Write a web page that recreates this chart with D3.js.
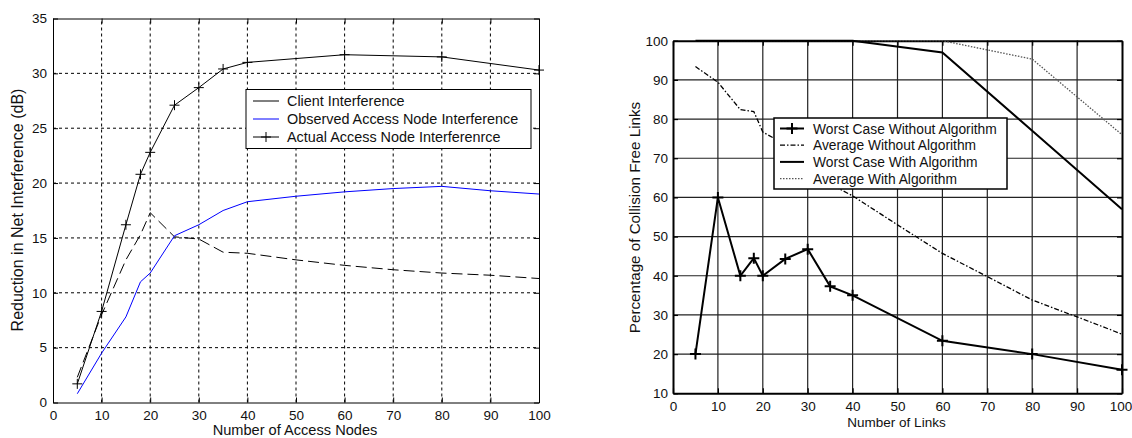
<!DOCTYPE html>
<html>
<head>
<meta charset="utf-8">
<script src="https://cdn.jsdelivr.net/npm/d3@7"></script>
<style>
  body { margin: 0; background: #fff; }
  text { font-family: "Liberation Sans", Arial, sans-serif; }
</style>
</head>
<body>
<div id="js-charts"></div>
<script>
//  Left chart data
var nodesX    = [5, 10, 15, 18, 20, 25, 30, 35, 40, 50, 60, 70, 80, 90, 100];
var clientY   = [2.3, 8.0, 13.0, 15.3, 17.3, 15.1, 14.9, 13.7, 13.6, 13.0, 12.5, 12.1, 11.8, 11.6, 11.3];
var observedY = [0.8, 4.5, 7.8, 11.0, 11.8, 15.2, 16.2, 17.5, 18.3, 18.8, 19.2, 19.5, 19.7, 19.3, 19.0];
var actualX   = [5, 10, 15, 18, 20, 25, 30, 35, 40, 60, 80, 100];
var actualY   = [1.7, 8.3, 16.2, 20.8, 22.8, 27.1, 28.7, 30.4, 31.0, 31.7, 31.5, 30.3];
var leftLegend = ["Client Interference", "Observed Access Node Interference", "Actual Access Node Interferenrce"];
var leftXTicks = [0, 10, 20, 30, 40, 50, 60, 70, 80, 90, 100];
var leftYTicks = [0, 5, 10, 15, 20, 25, 30, 35];

//  Right chart data
var linksX        = [5, 10, 15, 18, 20, 25, 30, 35, 40, 60, 80, 100];
var worstWithout  = [20, 60, 40, 44.5, 40, 44.3, 46.8, 37.3, 35, 23.4, 20, 16];
var avgWithoutX   = [5, 10, 15, 18, 20, 25, 30, 35, 40, 50, 60, 70, 80, 90, 100];
var avgWithout    = [93.4, 89.4, 82.4, 81.9, 76.7, 73.5, 68.5, 63.4, 60.4, 53, 45.7, 39.8, 33.8, 29.5, 25.1];
var worstWith     = [100, 100, 100, 100, 100, 100, 100, 100, 100, 97, 77, 57];
var avgWith       = [100, 100, 100, 100, 100, 100, 100, 100, 100, 100, 95.3, 76];
var rightLegend = ["Worst Case Without Algorithm", "Average Without Algorithm", "Worst Case With Algorithm", "Average With Algorithm"];
var rightXTicks = [0, 10, 20, 30, 40, 50, 60, 70, 80, 90, 100];
var rightYTicks = [10, 20, 30, 40, 50, 60, 70, 80, 90, 100];

// ---------------------------------------------------------------------------------- //

var svg = d3.select("#js-charts")
  .append("svg")
  .attr("width", 1132)
  .attr("height", 438);

function pairs(xs, ys)
{
  return xs.map(function(x, i) { return [x, ys[i]]; });
}

function plus(g, cx, cy, size, width)
{
  g.append("path")
    .attr("d", "M" + (cx - size) + "," + cy + "H" + (cx + size) + "M" + cx + "," + (cy - size) + "V" + (cy + size))
    .attr("stroke", "#000")
    .attr("stroke-width", width)
    .attr("fill", "none");
}

// ---------------------------------------------------------------------------------- //
//  Left chart

var lx = d3.scaleLinear().domain([0, 100]).range([53, 539]);
var ly = d3.scaleLinear().domain([0, 35]).range([402.5, 18.5]);
var left = svg.append("g");

// dashed grid
left.selectAll(".vg").data(leftXTicks.slice(1, -1)).enter().append("line")
  .attr("x1", function(d) { return lx(d); }).attr("x2", function(d) { return lx(d); })
  .attr("y1", ly(0)).attr("y2", ly(35))
  .attr("stroke", "#000").attr("stroke-width", 1).attr("stroke-dasharray", "3,3");
left.selectAll(".hg").data(leftYTicks.slice(1, -1)).enter().append("line")
  .attr("x1", lx(0)).attr("x2", lx(100))
  .attr("y1", function(d) { return ly(d); }).attr("y2", function(d) { return ly(d); })
  .attr("stroke", "#000").attr("stroke-width", 1).attr("stroke-dasharray", "3,3");

// axes with inner ticks
left.append("g").attr("transform", "translate(0," + ly(0) + ")")
  .call(d3.axisBottom(lx).tickValues(leftXTicks).tickSizeInner(-5).tickSizeOuter(0).tickPadding(8));
left.append("g").attr("transform", "translate(" + lx(0) + ",0)")
  .call(d3.axisLeft(ly).tickValues(leftYTicks).tickSizeInner(-5).tickSizeOuter(0).tickPadding(6));
left.append("g").attr("transform", "translate(0," + ly(35) + ")")
  .call(d3.axisTop(lx).tickValues(leftXTicks).tickSizeInner(-5).tickSizeOuter(0).tickFormat(""));
left.append("g").attr("transform", "translate(" + lx(100) + ",0)")
  .call(d3.axisRight(ly).tickValues(leftYTicks).tickSizeInner(-5).tickSizeOuter(0).tickFormat(""));

left.selectAll(".domain").attr("stroke", "#000");
left.selectAll(".tick text").attr("font-size", 13.5).attr("fill", "#111");

var lline = d3.line().x(function(d) { return lx(d[0]); }).y(function(d) { return ly(d[1]); });

left.append("path").datum(pairs(nodesX, clientY))
  .attr("d", lline).attr("fill", "none").attr("stroke", "#000").attr("stroke-width", 1)
  .attr("stroke-dasharray", "11,5");
left.append("path").datum(pairs(nodesX, observedY))
  .attr("d", lline).attr("fill", "none").attr("stroke", "#0000ff").attr("stroke-width", 1);
left.append("path").datum(pairs(actualX, actualY))
  .attr("d", lline).attr("fill", "none").attr("stroke", "#000").attr("stroke-width", 1);
pairs(actualX, actualY).forEach(function(p) { plus(left, lx(p[0]), ly(p[1]), 5, 1); });

// legend
left.append("rect")
  .attr("x", 246).attr("y", 89.5).attr("width", 285).attr("height", 59)
  .attr("fill", "#fff").attr("stroke", "#000").attr("stroke-width", 1);
var leftColors = ["#000", "#0000ff", "#000"];
leftLegend.forEach(function(name, i)
{
  var y = 101 + i * 18;
  left.append("line").attr("x1", 253).attr("x2", 279).attr("y1", y).attr("y2", y)
    .attr("stroke", leftColors[i]).attr("stroke-width", 1);
  if (i == 2) plus(left, 266, y, 5, 1);
  left.append("text").attr("x", 287).attr("y", y + 5)
    .attr("font-size", 14.4).attr("fill", "#111").text(name);
});

left.append("text")
  .attr("x", 295).attr("y", 435).attr("text-anchor", "middle")
  .attr("font-size", 14.6).attr("fill", "#111").text("Number of Access Nodes");
left.append("text")
  .attr("transform", "translate(23,210) rotate(-90)").attr("text-anchor", "middle")
  .attr("font-size", 16).attr("fill", "#111").text("Reduction in Net Interference (dB)");

// ---------------------------------------------------------------------------------- //
//  Right chart

var rx = d3.scaleLinear().domain([0, 100]).range([673, 1122]);
var ry = d3.scaleLinear().domain([10, 100]).range([393.3, 40.7]);
var right = svg.append("g");

right.selectAll(".vg").data(rightXTicks.slice(1, -1)).enter().append("line")
  .attr("x1", function(d) { return rx(d); }).attr("x2", function(d) { return rx(d); })
  .attr("y1", ry(10)).attr("y2", ry(100))
  .attr("stroke", "#222").attr("stroke-width", 1.2);
right.selectAll(".hg").data(rightYTicks.slice(1, -1)).enter().append("line")
  .attr("x1", rx(0)).attr("x2", rx(100))
  .attr("y1", function(d) { return ry(d); }).attr("y2", function(d) { return ry(d); })
  .attr("stroke", "#222").attr("stroke-width", 1.2);

var rBottom = right.append("g").attr("transform", "translate(0," + ry(10) + ")")
  .call(d3.axisBottom(rx).tickValues(rightXTicks).tickSizeInner(-5).tickSizeOuter(0).tickPadding(8));
right.append("g").attr("transform", "translate(" + rx(0) + ",0)")
  .call(d3.axisLeft(ry).tickValues(rightYTicks).tickSizeInner(-5).tickSizeOuter(0).tickPadding(5));
right.append("g").attr("transform", "translate(0," + ry(100) + ")")
  .call(d3.axisTop(rx).tickValues(rightXTicks).tickSizeInner(-5).tickSizeOuter(0).tickFormat(""));
right.append("g").attr("transform", "translate(" + rx(100) + ",0)")
  .call(d3.axisRight(ry).tickValues(rightYTicks).tickSizeInner(-5).tickSizeOuter(0).tickFormat(""));

right.selectAll(".domain").attr("stroke", "#000").attr("stroke-width", 2);
right.selectAll(".tick line").attr("stroke-width", 1.2);
right.selectAll(".tick text").attr("font-size", 13.5).attr("fill", "#111");
// keep the last label inside the page
rBottom.selectAll(".tick text").filter(function(d) { return d == 100; }).attr("x", -1.5);

var rline = d3.line().x(function(d) { return rx(d[0]); }).y(function(d) { return ry(d[1]); });

right.append("path").datum(pairs(linksX, avgWith))
  .attr("d", rline).attr("fill", "none").attr("stroke", "#555").attr("stroke-width", 1.3)
  .attr("stroke-dasharray", "1.5,1.5");
right.append("path").datum(pairs(avgWithoutX, avgWithout))
  .attr("d", rline).attr("fill", "none").attr("stroke", "#000").attr("stroke-width", 1.3)
  .attr("stroke-dasharray", "5,2,1.5,2");
right.append("path").datum(pairs(linksX, worstWith))
  .attr("d", rline).attr("fill", "none").attr("stroke", "#000").attr("stroke-width", 2);
right.append("path").datum(pairs(linksX, worstWithout))
  .attr("d", rline).attr("fill", "none").attr("stroke", "#000").attr("stroke-width", 2);
pairs(linksX, worstWithout).forEach(function(p) { plus(right, rx(p[0]), ry(p[1]), 5.5, 2); });

// legend
right.append("rect")
  .attr("x", 774).attr("y", 118).attr("width", 233).attr("height", 71)
  .attr("fill", "#fff").attr("stroke", "#000").attr("stroke-width", 1.5);
var rightDash = [null, "5,2,1.5,2", null, "1.5,1.5"];
var rightWidth = [2, 1.3, 2, 1.3];
var rightStroke = ["#000", "#000", "#000", "#555"];
rightLegend.forEach(function(name, i)
{
  var y = 128.5 + i * 16.7;
  right.append("line").attr("x1", 780).attr("x2", 804).attr("y1", y).attr("y2", y)
    .attr("stroke", rightStroke[i]).attr("stroke-width", rightWidth[i])
    .attr("stroke-dasharray", rightDash[i]);
  if (i == 0) plus(right, 792, y, 5.5, 2);
  right.append("text").attr("x", 813).attr("y", y + 5)
    .attr("font-size", 13.8).attr("fill", "#111").text(name);
});

right.append("text")
  .attr("x", 896.5).attr("y", 427).attr("text-anchor", "middle")
  .attr("font-size", 13.5).attr("fill", "#111").text("Number of Links");
right.append("text")
  .attr("transform", "translate(640,217.5) rotate(-90)").attr("text-anchor", "middle")
  .attr("font-size", 15.2).attr("fill", "#111").text("Percentage of Collision Free Links");
</script>
</body>
</html>
